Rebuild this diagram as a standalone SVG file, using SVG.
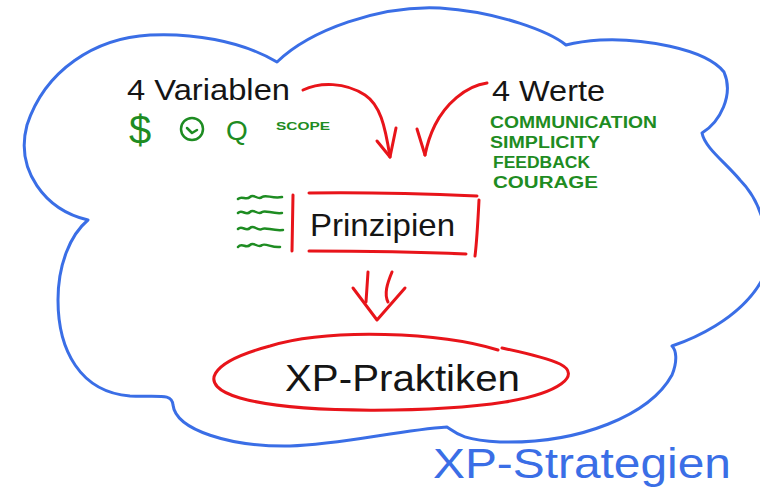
<svg xmlns="http://www.w3.org/2000/svg" width="760" height="494" viewBox="0 0 760 494">
<style>
  .blue { fill: none; stroke: #3a6ee6; stroke-width: 3; stroke-linecap: round; stroke-linejoin: round; }
  .red { fill: none; stroke: #e8141a; stroke-width: 3; stroke-linecap: round; stroke-linejoin: round; }
  .grn { fill: none; stroke: #1e8c22; stroke-width: 2.5; stroke-linecap: round; stroke-linejoin: round; }
  .ink { font-family: "Liberation Sans", "DejaVu Sans", sans-serif; fill: #151515; }
  .gtxt { font-family: "Liberation Sans", "DejaVu Sans", sans-serif; fill: #1e8c22; font-weight: bold; }
  .gsym { font-family: "Liberation Sans", "DejaVu Sans", sans-serif; fill: #1e8c22; font-weight: normal; }
  .btxt { font-family: "Liberation Sans", "DejaVu Sans", sans-serif; fill: #3a6ee6; }
</style>
<rect width="760" height="494" fill="#ffffff"/>

<g id="strategien">
  <path class="blue" d="M 277 62 C 240 40, 190 33, 150 35 C 95 38, 45 70, 27 125 C 15 170, 45 210, 88 220 C 70 235, 58 265, 58 300 C 58 350, 80 392, 130 396 C 160 397, 172 393, 173 405 C 176 430, 230 447, 290 446 C 340 445, 400 430, 447 427 C 455 432, 460 440, 500 442 C 580 444, 650 415, 672 375 C 678 360, 676 350, 672 346 C 690 340, 740 320, 762 280 C 775 240, 760 200, 740 180 C 725 162, 705 148, 702 133 C 720 122, 734 95, 724 72 C 705 48, 640 38, 600 40 C 585 41, 570 44, 566 45 C 550 32, 500 12, 440 8 C 380 5, 310 30, 277 62 Z"/>
  <text class="btxt" x="433" y="478" font-size="42" textLength="298" lengthAdjust="spacingAndGlyphs">XP-Strategien</text>
</g>

<g id="variablen">
  <text class="ink" x="127" y="100" font-size="30" textLength="163" lengthAdjust="spacingAndGlyphs">4 Variablen</text>
  <text class="gsym" x="129" y="144" font-size="40">$</text>
  <circle class="grn" cx="192" cy="129" r="11"/>
  <path class="grn" d="M 187 128 L 192 133 L 197 130"/>
  <text class="gsym" x="226" y="140" font-size="28">Q</text>
  <text class="gtxt" x="276" y="130" font-size="11" textLength="54" lengthAdjust="spacingAndGlyphs">SCOPE</text>
</g>

<g id="werte">
  <text class="ink" x="492" y="101" font-size="30" textLength="113" lengthAdjust="spacingAndGlyphs">4 Werte</text>
  <text class="gtxt" x="490" y="128" font-size="16" textLength="167" lengthAdjust="spacingAndGlyphs">COMMUNICATION</text>
  <text class="gtxt" x="490" y="148" font-size="16" textLength="110" lengthAdjust="spacingAndGlyphs">SIMPLICITY</text>
  <text class="gtxt" x="493" y="168" font-size="16" textLength="97" lengthAdjust="spacingAndGlyphs">FEEDBACK</text>
  <text class="gtxt" x="493" y="188" font-size="16" textLength="105" lengthAdjust="spacingAndGlyphs">COURAGE</text>
</g>

<g id="prinzipien">
  <path class="grn" d="M 238 199 C 242 195, 246 201, 250 197 C 254 193, 258 201, 262 197 C 266 194, 272 199, 282 197"/>
  <path class="grn" d="M 238 213 C 242 209, 246 216, 250 212 C 254 208, 258 216, 262 212 C 266 210, 272 214, 282 213"/>
  <path class="grn" d="M 238 229 C 242 225, 246 232, 250 228 C 254 224, 258 232, 262 229 C 266 227, 272 231, 283 230"/>
  <path class="grn" d="M 238 247 C 242 242, 246 249, 250 245 C 254 241, 258 249, 262 245 C 266 243, 272 248, 280 247"/>
  <path class="red" d="M 293 195 L 292 251"/>
  <path class="red" d="M 309 193 C 370 192, 430 194, 477 196"/>
  <path class="red" d="M 479 200 C 478 220, 477 240, 475 256"/>
  <path class="red" d="M 309 251 C 360 251, 420 252, 466 254"/>
  <text class="ink" x="310" y="236" font-size="32" textLength="145" lengthAdjust="spacingAndGlyphs">Prinzipien</text>
</g>

<g id="praktiken">
  <path class="red" d="M 498 350 C 440 332, 330 328, 270 346 C 210 362, 195 385, 240 398 C 300 415, 440 412, 505 402 C 560 393, 582 375, 560 364 C 545 357, 525 353, 502 348"/>
  <text class="ink" x="285" y="391" font-size="36" textLength="235" lengthAdjust="spacingAndGlyphs">XP-Praktiken</text>
</g>

<g id="connectors">
  <path class="red" d="M 303 90 C 320 82, 345 82, 365 95 C 380 105, 385 125, 390 157"/>
  <path class="red" d="M 377 141 L 390 157 L 396 128"/>
  <path class="red" d="M 487 83 C 465 86, 445 105, 435 125 C 430 135, 427 145, 425 155"/>
  <path class="red" d="M 417 129 L 425 155"/>
  <path class="red" d="M 368 272 L 366 302"/>
  <path class="red" d="M 392 272 C 387 284, 384 294, 388 302"/>
  <path class="red" d="M 353 288 L 377 320 L 405 288"/>
</g>
</svg>
